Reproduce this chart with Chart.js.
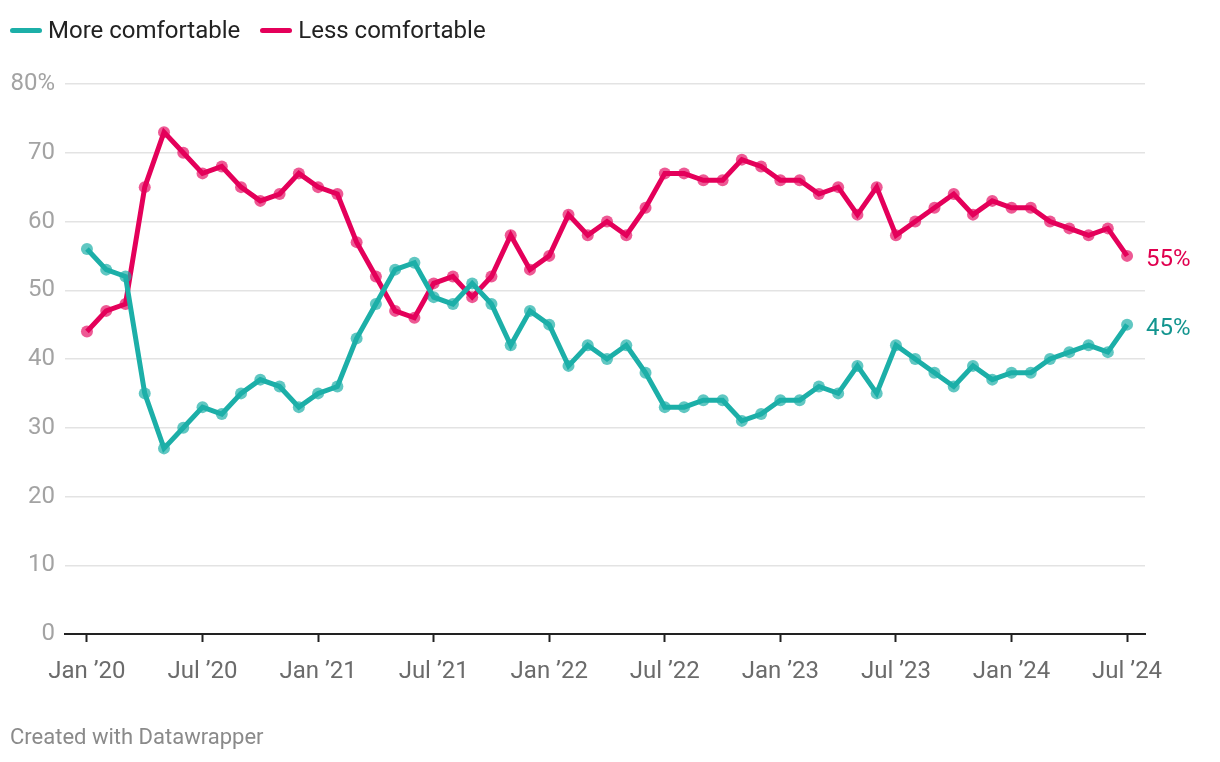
<!DOCTYPE html>
<html lang="en">
<head>
    <meta charset="UTF-8">
    <title>More / Less comfortable</title>
    <script src="https://cdn.jsdelivr.net/npm/chart.js"></script>
    <style>
        body { margin: 0; width: 1220px; height: 762px; background: #fff; font-family: Roboto, sans-serif; overflow: hidden; }
        #wrap { position: absolute; left: 0; top: 0; width: 1220px; height: 762px; }
        .legend { position: absolute; top: 16px; left: 10px; font-size: 24px; color: #222; display: flex; align-items: center; }
        .legend .item { display: flex; align-items: center; margin-right: 20px; }
        .legend .swatch { width: 32px; height: 5px; border-radius: 3px; margin-right: 6px; }
        .footer { position: absolute; left: 10px; top: 724px; font-size: 22px; color: #8a8a8a; }
    </style>
</head>
<body>
    <div id="wrap"><canvas id="chart"></canvas></div>
    <div class="legend">
        <div class="item"><span class="swatch" style="background:#1cafa8"></span>More comfortable</div>
        <div class="item"><span class="swatch" style="background:#e4005a"></span>Less comfortable</div>
    </div>
    <div class="footer">Created with Datawrapper</div>
    <script>
        // monthly, Jan 2020 .. Jul 2024
        const moreComfortable = [56, 53, 52, 35, 27, 30, 33, 32, 35, 37, 36, 33,
            35, 36, 43, 48, 53, 54, 49, 48, 51, 48, 42, 47,
            45, 39, 42, 40, 42, 38, 33, 33, 34, 34, 31, 32,
            34, 34, 36, 35, 39, 35, 42, 40, 38, 36, 39, 37,
            38, 38, 40, 41, 42, 41, 45];
        const lessComfortable = [44, 47, 48, 65, 73, 70, 67, 68, 65, 63, 64, 67,
            65, 64, 57, 52, 47, 46, 51, 52, 49, 52, 58, 53,
            55, 61, 58, 60, 58, 62, 67, 67, 66, 66, 69, 68,
            66, 66, 64, 65, 61, 65, 58, 60, 62, 64, 61, 63,
            62, 62, 60, 59, 58, 59, 55];
        const tickIdx = [0, 6, 12, 18, 24, 30, 36, 42, 48, 54];
        const tickLabels = ['Jan ’20', 'Jul ’20', 'Jan ’21', 'Jul ’21', 'Jan ’22',
            'Jul ’22', 'Jan ’23', 'Jul ’23', 'Jan ’24', 'Jul ’24'];
        const yTicks = [0, 10, 20, 30, 40, 50, 60, 70, 80];

        const TEAL = '#1cafa8', RED = '#e4005a';

        const endLabels = {
            id: 'endLabels',
            afterDatasetsDraw(chart) {
                const ctx = chart.ctx;
                const colors = ['#13958f', '#e0004f'];
                chart.data.datasets.forEach((ds, i) => {
                    const meta = chart.getDatasetMeta(i);
                    const pt = meta.data[meta.data.length - 1];
                    const val = ds.data[ds.data.length - 1].y;
                    ctx.save();
                    ctx.font = '24px Roboto';
                    ctx.fillStyle = colors[i];
                    ctx.textBaseline = 'middle';
                    ctx.fillText(val + '%', pt.x + 19, pt.y + 4);
                    ctx.restore();
                });
            }
        };

        const toPts = arr => arr.map((v, i) => ({ x: i, y: v }));

        new Chart(document.getElementById('chart'), {
            type: 'line',
            data: {
                datasets: [{
                    label: 'More comfortable',
                    data: toPts(moreComfortable),
                    borderColor: TEAL,
                    backgroundColor: 'rgba(28,175,168,0.7)',
                    borderWidth: 5,
                    pointRadius: 6,
                    pointBorderWidth: 0,
                    tension: 0
                }, {
                    label: 'Less comfortable',
                    data: toPts(lessComfortable),
                    borderColor: RED,
                    backgroundColor: 'rgba(228,0,90,0.65)',
                    borderWidth: 5,
                    pointRadius: 6,
                    pointBorderWidth: 0,
                    tension: 0
                }]
            },
            options: {
                responsive: true,
                maintainAspectRatio: false,
                animation: false,
                clip: false,
                layout: { padding: { left: 0, right: 75, top: 84, bottom: 0 } },
                plugins: { legend: { display: false }, tooltip: { enabled: false } },
                scales: {
                    x: {
                        type: 'linear',
                        min: -1.14,
                        max: 54.93,
                        afterBuildTicks: s => { s.ticks = tickIdx.map(v => ({ value: v })); },
                        afterFit: s => { s.height = 128; },
                        ticks: {
                            callback: v => tickLabels[tickIdx.indexOf(v)],
                            color: '#6b6b6b',
                            font: { family: 'Roboto', size: 24 },
                            padding: 16,
                            maxRotation: 0,
                            autoSkip: false
                        },
                        grid: { drawOnChartArea: false, drawTicks: true, tickLength: 8, color: '#222', tickWidth: 2 },
                        border: { display: true, color: '#222', width: 2 }
                    },
                    y: {
                        min: 0,
                        max: 80,
                        afterBuildTicks: s => { s.ticks = yTicks.map(v => ({ value: v })); },
                        afterFit: s => { s.width = 65; },
                        ticks: {
                            callback: v => v === 80 ? '80%' : v,
                            color: '#a3a3a3',
                            font: { family: 'Roboto', size: 24 },
                            padding: 10
                        },
                        grid: { color: '#e3e3e3', lineWidth: 1.5, drawTicks: false },
                        border: { display: false }
                    }
                }
            },
            plugins: [endLabels]
        });
    </script>
</body>
</html>
